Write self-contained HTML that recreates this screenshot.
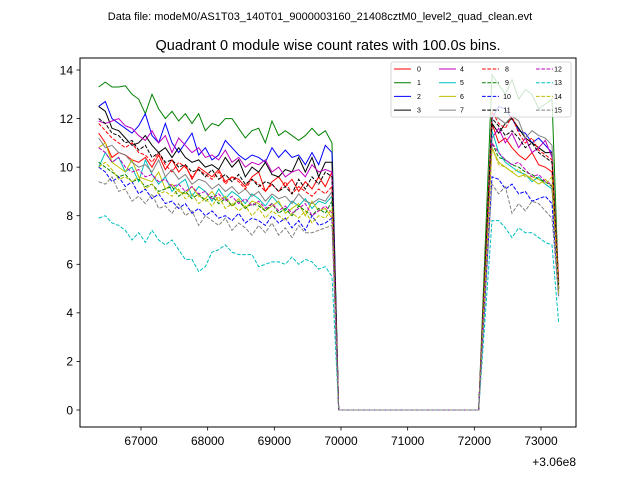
<!DOCTYPE html>
<html><head><meta charset="utf-8"><style>
body{margin:0;background:#fff;}
svg{display:block;font-family:"Liberation Sans","DejaVu Sans",sans-serif;}
</style></head><body>
<svg id="chart" width="640" height="480" viewBox="0 0 640 480">
<text x="320" y="20" text-anchor="middle" font-size="11">Data file: modeM0/AS1T03_140T01_9000003160_21408cztM0_level2_quad_clean.evt</text>
<text x="328" y="50" text-anchor="middle" font-size="14.5">Quadrant 0 module wise count rates with 100.0s bins.</text>
<g id="plot"></g>
<rect x="80" y="58" width="496" height="369" fill="none" stroke="#000" stroke-width="1"/>
<g id="xticks"></g>
<g id="yticks"></g>
<text x="576" y="466" text-anchor="end" font-size="12">+3.06e8</text>
<g id="legend"></g>
</svg>
<script>
const xStart = 66365;
const binSize = 100;
const xTicks = [67000,68000,69000,70000,71000,72000,73000];
const xTickLabels = ["67000","68000","69000","70000","71000","72000","73000"];
const yTicks = [0,2,4,6,8,10,12,14];
const yTickLabels = ["0","2","4","6","8","10","12","14"];
const gap = [0,0,0,0,0,0,0,0,0,0,0,0,0,0,0,0,0,0,0,0,0,0];
const names = ["0","1","2","3","4","5","6","7","8","9","10","11","12","13","14","15"];
const s0a=[11.4,11.0,10.4,10.6,10.5,10.3,10.2,10.4,10.0,10.5,9.9,10.3,9.8,10.1,9.5,10.0,9.8,9.6,9.9,9.4,9.6,9.5,9.2,9.6,9.8,9.0,9.4,9.6,9.2,9.5,9.0,9.4,9.1,9.6,9.2,9.8];
const s0b=[5.9,11.8,11.0,11.2,10.8,10.5,10.3,10.6,10.1,10.0,9.8,5.0];
const s1a=[13.3,13.5,13.3,13.3,13.35,13.0,12.8,12.2,13.0,12.4,12.0,12.3,11.9,12.2,11.8,12.2,11.5,11.8,11.7,12.0,12.0,11.6,11.2,11.5,11.6,11.0,11.9,11.3,11.5,11.3,11.1,11.3,11.6,11.3,11.5,11.0];
const s1b=[6.9,13.8,13.4,13.0,13.6,12.8,13.2,13.0,12.4,12.6,12.8,5.0];
const s2a=[12.5,12.7,12.0,11.8,11.6,11.4,11.7,12.2,11.3,11.0,11.8,11.0,10.6,11.0,11.4,10.5,10.8,10.3,10.5,11.1,10.8,10.5,10.3,10.5,10.4,10.2,10.8,10.4,10.7,10.4,10.5,10.1,10.6,10.1,10.9,10.6];
const s2b=[6.0,12.0,12.5,12.4,12.0,11.5,11.4,11.0,11.2,10.9,10.6,4.8];
const s3a=[12.5,12.3,11.6,11.5,11.2,10.9,11.0,11.3,10.9,10.6,10.8,10.4,10.8,10.4,10.2,10.3,10.0,10.1,9.9,10.4,10.0,10.3,9.6,10.0,9.8,10.2,9.7,9.6,9.9,9.8,10.4,9.8,10.4,9.6,10.2,10.2];
const s3b=[5.9,11.8,11.4,11.8,12.0,11.6,11.2,11.0,10.8,10.6,10.6,5.2];
const s4a=[11.9,11.8,11.9,12.0,11.7,11.6,11.3,11.1,11.5,11.0,11.3,10.6,11.2,10.9,10.6,10.8,10.4,10.5,10.3,10.7,10.2,10.4,10.0,10.2,10.1,10.3,9.8,10.0,9.6,9.8,9.9,9.6,10.1,9.8,9.9,9.8];
const s4b=[5.6,11.2,11.6,11.0,11.4,10.8,11.2,10.6,10.8,11.1,10.4,5.0];
const s5a=[10.0,10.6,10.2,10.4,9.8,10.0,9.4,10.3,9.7,9.3,9.6,9.0,9.3,9.5,8.8,9.2,9.0,8.6,9.1,8.7,9.0,8.8,8.5,8.9,8.7,8.4,8.8,8.5,8.2,8.6,8.4,8.7,8.3,8.6,8.5,8.8];
const s5b=[5.7,11.5,10.6,10.2,10.0,9.8,9.7,9.4,9.6,9.3,9.1,5.0];
const s6a=[10.8,11.0,10.2,10.0,9.8,10.3,9.6,9.5,9.4,9.8,9.1,9.3,9.0,8.9,9.2,8.8,8.7,9.0,8.6,8.8,8.4,8.7,8.3,8.6,8.5,8.2,8.4,8.6,8.1,8.3,8.5,8.0,8.6,8.2,8.3,7.9];
const s6b=[5.4,10.8,10.2,10.0,9.8,9.6,9.7,9.5,9.3,9.5,9.2,4.9];
const s7a=[11.2,10.8,10.9,10.6,10.5,10.2,10.0,10.1,9.8,10.3,9.6,9.9,9.5,9.7,9.3,9.5,9.4,9.1,9.3,9.0,9.2,8.9,9.1,8.8,9.0,8.6,8.9,8.7,8.8,8.5,8.9,8.6,8.5,8.7,8.6,9.0];
const s7b=[6.1,12.2,12.0,11.8,12.1,11.9,11.2,11.5,11.3,11.2,10.9,5.2];
const s8a=[11.8,11.5,11.2,11.0,10.8,11.0,10.6,10.5,10.2,10.6,10.1,9.8,10.2,10.0,9.6,9.9,9.7,9.5,9.8,9.3,9.6,9.4,9.1,9.5,9.3,9.0,9.3,9.0,9.4,8.9,9.2,9.0,8.8,9.1,8.9,9.2];
const s8b=[6.1,12.3,11.8,11.6,12.1,11.4,11.0,11.2,10.7,10.5,10.3,5.3];
const s9a=[10.2,10.0,9.8,9.6,9.7,9.4,9.5,9.2,9.3,9.0,9.1,9.2,8.8,9.0,8.7,8.9,8.6,8.8,8.5,8.7,8.4,8.6,8.3,8.5,8.4,8.2,8.5,8.1,8.3,8.0,8.4,8.2,8.0,8.3,8.1,8.6];
const s9b=[5.5,11.0,10.4,10.3,10.1,10.0,9.8,9.7,9.5,9.4,9.2,5.0];
const s10a=[10.0,9.8,9.4,9.6,9.2,9.4,8.9,9.1,8.7,8.9,8.5,8.6,8.3,8.5,8.1,8.3,8.0,8.2,7.9,8.0,7.8,8.1,7.7,7.9,7.8,7.6,8.0,7.7,7.9,7.5,7.8,7.4,8.0,7.6,7.7,7.9];
const s10b=[4.8,9.6,9.5,9.1,9.3,8.9,9.0,8.6,8.7,8.8,8.5,4.7];
const s11a=[12.0,11.8,11.4,11.3,11.0,11.1,10.7,10.9,10.4,10.6,10.2,10.3,10.0,10.1,9.8,9.9,9.6,9.9,9.5,9.7,9.4,9.7,9.3,9.5,9.2,9.4,9.3,9.0,9.2,8.9,9.5,9.1,9.6,9.3,9.8,9.6];
const s11b=[6.0,12.0,11.7,11.3,11.5,11.2,10.8,11.0,10.6,10.4,10.2,5.0];
const s12a=[10.8,10.6,10.2,10.4,10.0,9.8,9.9,9.6,9.7,9.4,9.5,9.2,9.3,9.0,9.2,8.9,9.0,8.7,8.9,8.6,8.8,8.5,8.7,8.4,8.6,8.3,8.5,8.2,8.4,8.1,8.3,8.5,8.0,8.2,8.4,8.1];
const s12b=[5.5,11.0,10.6,10.3,10.1,10.2,9.9,9.6,9.7,9.4,9.3,4.9];
const s13a=[7.9,8.0,7.7,7.6,7.4,7.0,7.3,6.9,7.4,7.0,6.8,7.0,6.6,6.2,6.2,5.7,5.9,6.5,6.6,6.8,6.5,6.4,6.4,6.4,5.9,6.0,6.1,6.1,6.0,6.3,6.0,6.2,6.1,5.8,5.9,5.5];
const s13b=[3.9,7.8,7.8,7.5,7.1,7.5,7.3,7.3,7.1,6.9,6.8,3.6];
const s14a=[10.0,10.2,9.9,9.5,9.6,9.4,9.6,9.1,9.3,8.9,9.0,8.8,9.1,8.7,8.9,8.5,8.7,8.4,8.8,8.3,8.5,8.2,8.4,8.0,8.3,7.9,8.2,8.0,7.8,8.1,7.9,8.2,7.7,8.0,7.9,8.3];
const s14b=[5.4,10.8,10.1,10.0,9.8,9.9,9.6,9.6,9.5,9.3,9.6,4.8];
const s15a=[9.4,9.3,9.6,9.0,9.1,8.6,8.8,8.5,8.9,8.3,8.4,8.1,8.5,8.0,8.2,7.6,8.0,7.8,7.6,7.9,7.4,7.7,7.5,7.2,7.6,7.3,7.7,7.2,7.5,7.1,7.6,7.3,7.3,7.4,7.5,7.6];
const s15b=[4.7,9.3,8.9,9.2,8.1,8.5,8.2,8.6,8.5,8.2,7.9,4.6];
const seriesA=[s0a,s1a,s2a,s3a,s4a,s5a,s6a,s7a,s8a,s9a,s10a,s11a,s12a,s13a,s14a,s15a];
const seriesB=[s0b,s1b,s2b,s3b,s4b,s5b,s6b,s7b,s8b,s9b,s10b,s11b,s12b,s13b,s14b,s15b];

const colors=["#ff0000","#008000","#0000ff","#000000","#bf00bf","#00bfbf","#bfbf00","#808080"];
const NS="http://www.w3.org/2000/svg";
function xs(v){return 141+(v-67000)*400/6000;}
function ys(v){return 410-v*340/14;}
function mk(tag,attrs,parent){const e=document.createElementNS(NS,tag);for(const k in attrs)e.setAttribute(k,attrs[k]);parent.appendChild(e);return e;}

const xg=document.getElementById('xticks');
xTicks.forEach((t,i)=>{
  const l=mk('line',{x1:xs(t),x2:xs(t),y1:427,y2:430.5,stroke:'#000','stroke-width':0.8},xg);
  
  
  const tx=mk('text',{x:xs(t),y:445,'text-anchor':'middle','font-size':12},xg);
  tx.textContent=xTickLabels[i];
  
  
});
const yg=document.getElementById('yticks');
yTicks.forEach((t,i)=>{
  const l=mk('line',{x1:76.5,x2:80,y1:ys(t),y2:ys(t),stroke:'#000','stroke-width':0.8},yg);
  
  
  const tx=mk('text',{x:73,y:ys(t)+4.3,'text-anchor':'end','font-size':12},yg);
  tx.textContent=yTickLabels[i];
  
  
});

const pg=document.getElementById('plot');
seriesA.forEach((a,k)=>{
  const vals=a.concat(gap,seriesB[k]);
  const pts=vals.map((v,i)=>xs(xStart+i*binSize).toFixed(2)+','+ys(v).toFixed(2)).join(' ');
  const p=mk('polyline',{points:pts,fill:'none',stroke:colors[k%8],'stroke-width':1},pg);
  if(k>=8)p.setAttribute('stroke-dasharray','3.7,1.6');
  
  
});

const lg=document.getElementById('legend');
const box=mk('rect',{x:391,y:62,width:180,height:55,rx:2,fill:'#fff','fill-opacity':0.8,stroke:'#ccc','stroke-width':0.8},lg);


const colX=[394,439,482,536];
const labX=[419,462,507,558];
names.forEach((n,k)=>{
  const c=Math.floor(k/4), r=k%4;
  const y=69+r*13.7;
  const g=mk('g',{},lg);
  
  
  const l=mk('line',{x1:colX[c],x2:colX[c]+17,y1:y,y2:y,stroke:colors[k%8],'stroke-width':1},g);
  if(k>=8)l.setAttribute('stroke-dasharray','3.7,1.6');
  const t=mk('text',{x:labX[c],y:y+2.5,'font-size':7,'text-anchor':'middle'},g);
  t.textContent=n;
});
</script>
</body></html>
